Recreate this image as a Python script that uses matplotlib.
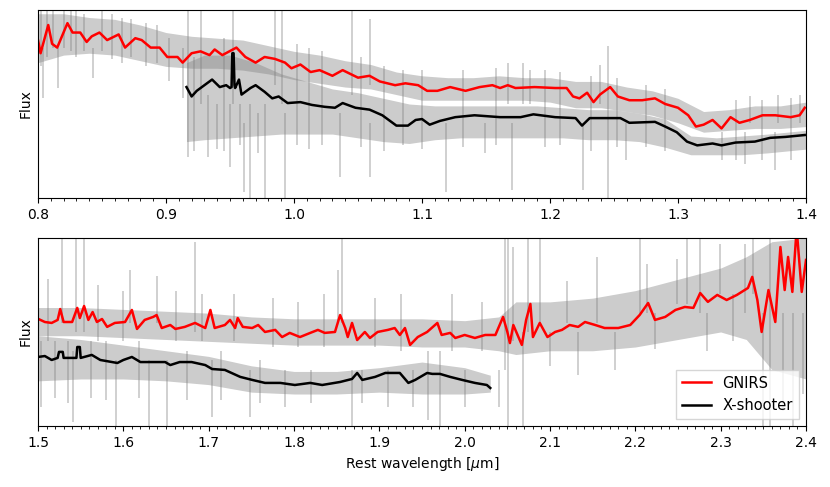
import matplotlib
matplotlib.use("Agg")
import matplotlib.pyplot as plt
from matplotlib.ticker import MultipleLocator

# ---- top panel (0.8 - 1.4 um) ----
# smoothed GNIRS
top_gn_wl = [0.800, 0.802, 0.808, 0.811, 0.815, 0.823, 0.827, 0.833, 0.838, 0.842,
             0.848, 0.854, 0.863, 0.868, 0.876, 0.881, 0.888, 0.895, 0.901, 0.909,
             0.913, 0.920, 0.927, 0.934, 0.938, 0.944, 0.955, 0.962, 0.970, 0.977,
             0.985, 0.993, 0.998, 1.005, 1.013, 1.020, 1.030, 1.038, 1.050, 1.059,
             1.067, 1.079, 1.087, 1.097, 1.104, 1.112, 1.122, 1.134, 1.145, 1.155,
             1.161, 1.167, 1.173, 1.188, 1.204, 1.213, 1.218, 1.223, 1.229, 1.234,
             1.239, 1.247, 1.253, 1.262, 1.272, 1.282, 1.290, 1.300, 1.308, 1.314,
             1.320, 1.327, 1.334, 1.341, 1.348, 1.356, 1.366, 1.376, 1.388, 1.395,
             1.399]
top_gn_flux = [0.84, 0.77, 0.92, 0.82, 0.80, 0.93, 0.88, 0.88, 0.83, 0.86,
               0.88, 0.84, 0.87, 0.80, 0.85, 0.84, 0.80, 0.80, 0.75, 0.75,
               0.72, 0.77, 0.78, 0.76, 0.79, 0.76, 0.80, 0.75, 0.72, 0.75,
               0.74, 0.72, 0.69, 0.71, 0.67, 0.68, 0.65, 0.68, 0.64, 0.65,
               0.62, 0.60, 0.61, 0.60, 0.57, 0.57, 0.59, 0.57, 0.59, 0.60,
               0.585, 0.60, 0.585, 0.59, 0.585, 0.585, 0.54, 0.53, 0.56, 0.51,
               0.55, 0.59, 0.54, 0.52, 0.52, 0.53, 0.50, 0.48, 0.44, 0.38,
               0.39, 0.415, 0.37, 0.43, 0.40, 0.415, 0.44, 0.44, 0.43, 0.44,
               0.48]

# smoothed X-shooter
top_xs_wl = [0.916, 0.920, 0.924, 0.930, 0.936, 0.942, 0.947, 0.950, 0.9512, 0.9518,
             0.9528, 0.9535, 0.954, 0.957, 0.959, 0.966, 0.970, 0.977, 0.983, 0.988,
             0.995, 1.005, 1.014, 1.024, 1.032, 1.038, 1.048, 1.059, 1.069, 1.080,
             1.089, 1.095, 1.100, 1.106, 1.114, 1.126, 1.141, 1.161, 1.177, 1.187,
             1.204, 1.220, 1.225, 1.231, 1.255, 1.262, 1.282, 1.290, 1.299, 1.307,
             1.315, 1.327, 1.334, 1.345, 1.360, 1.372, 1.384, 1.399]
top_xs_flux = [0.59, 0.54, 0.57, 0.60, 0.63, 0.59, 0.60, 0.585, 0.59, 0.77,
               0.77, 0.60, 0.585, 0.63, 0.55, 0.585, 0.60, 0.565, 0.53, 0.54,
               0.505, 0.51, 0.495, 0.485, 0.48, 0.505, 0.48, 0.47, 0.44, 0.385,
               0.385, 0.415, 0.42, 0.39, 0.41, 0.43, 0.44, 0.43, 0.43, 0.445,
               0.43, 0.425, 0.385, 0.425, 0.425, 0.40, 0.405, 0.38, 0.35, 0.30,
               0.28, 0.29, 0.28, 0.295, 0.30, 0.32, 0.325, 0.335]

# raw spectra (grey): core band of the noise
top_gn_raw_wl = [0.80, 0.82, 0.84, 0.86, 0.88, 0.90, 0.92, 0.94, 0.96, 0.98,
                 1.00, 1.02, 1.04, 1.06, 1.08, 1.10, 1.12, 1.14, 1.16, 1.18,
                 1.20, 1.22, 1.24, 1.26, 1.28, 1.30, 1.32, 1.34, 1.36, 1.38, 1.40]
top_gn_raw_hi = [0.98, 0.98, 0.96, 0.95, 0.92, 0.88, 0.86, 0.85, 0.84, 0.81,
                 0.78, 0.76, 0.73, 0.71, 0.67, 0.65, 0.64, 0.64, 0.65, 0.64,
                 0.64, 0.62, 0.62, 0.59, 0.57, 0.53, 0.46, 0.47, 0.49, 0.49, 0.51]
top_gn_raw_lo = [0.72, 0.76, 0.77, 0.76, 0.73, 0.70, 0.69, 0.69, 0.68, 0.66,
                 0.63, 0.61, 0.59, 0.58, 0.55, 0.52, 0.52, 0.52, 0.52, 0.52,
                 0.51, 0.48, 0.48, 0.46, 0.44, 0.40, 0.35, 0.36, 0.37, 0.37, 0.38]

top_xs_raw_wl = [0.916, 0.93, 0.95, 0.97, 0.99, 1.01, 1.03, 1.05, 1.07, 1.09,
                 1.11, 1.13, 1.15, 1.17, 1.19, 1.21, 1.23, 1.25, 1.27, 1.29,
                 1.31, 1.33, 1.35, 1.37, 1.40]
top_xs_raw_hi = [0.72, 0.76, 0.76, 0.72, 0.66, 0.62, 0.58, 0.56, 0.53, 0.50,
                 0.49, 0.49, 0.49, 0.49, 0.49, 0.48, 0.47, 0.47, 0.45, 0.42,
                 0.33, 0.32, 0.33, 0.34, 0.36]
top_xs_raw_lo = [0.30, 0.31, 0.32, 0.33, 0.34, 0.34, 0.34, 0.32, 0.30, 0.29,
                 0.31, 0.32, 0.32, 0.32, 0.32, 0.32, 0.31, 0.31, 0.30, 0.27,
                 0.23, 0.23, 0.23, 0.24, 0.26]

# single-pixel spikes (wavelength, bottom, top)
top_spike_wl = [0.802, 0.804, 0.807, 0.812, 0.816, 0.820, 0.826, 0.830, 0.836, 0.843,
                0.850, 0.858, 0.866, 0.873, 0.884, 0.893, 0.902, 0.913, 0.917, 0.922,
                0.927, 0.933, 0.940, 0.945, 0.950, 0.952, 0.958, 0.961, 0.966, 0.972,
                0.977, 0.985, 0.991, 0.993, 1.002, 1.012, 1.022, 1.036, 1.045, 1.052,
                1.059, 1.059, 1.070, 1.085, 1.100, 1.119, 1.132, 1.149, 1.158, 1.167,
                1.170, 1.179, 1.184, 1.196, 1.208, 1.226, 1.232, 1.239, 1.245, 1.252,
                1.259, 1.275, 1.290, 1.334, 1.345, 1.352, 1.356, 1.366, 1.376, 1.378,
                1.388, 1.395]
top_spike_lo = [0.70, 0.53, 0.75, 0.80, 0.585, 0.80, 0.78, 0.75, 0.78, 0.64,
                0.78, 0.74, 0.72, 0.75, 0.70, 0.72, 0.62, 0.53, 0.22, 0.25,
                0.50, 0.22, 0.26, 0.25, 0.165, 0.50, 0.28, 0.03, 0.00, 0.24,
                0.00, 0.60, 0.50, 0.00, 0.28, 0.26, 0.28, 0.11, 0.55, 0.27,
                0.11, 0.60, 0.25, 0.28, 0.26, 0.03, 0.27, 0.24, 0.28, 0.50,
                0.04, 0.50, 0.50, 0.27, 0.28, 0.04, 0.25, 0.50, 0.00, 0.27,
                0.20, 0.27, 0.25, 0.20, 0.20, 0.18, 0.40, 0.20, 0.15, 0.40,
                0.20, 0.40]
top_spike_hi = [1.00, 0.80, 1.00, 1.00, 0.80, 1.00, 1.00, 1.00, 0.98, 0.80,
                1.00, 0.98, 0.96, 0.95, 0.93, 0.92, 0.85, 0.80, 1.00, 0.75,
                1.00, 0.55, 0.50, 0.85, 0.50, 1.00, 0.50, 0.40, 0.50, 0.45,
                0.50, 1.00, 1.00, 0.45, 0.82, 0.80, 0.78, 0.45, 1.00, 0.75,
                0.40, 0.95, 0.70, 0.68, 0.68, 0.40, 0.68, 0.40, 0.69, 0.72,
                0.40, 0.72, 0.68, 0.68, 0.67, 0.40, 0.65, 0.71, 0.81, 0.64,
                0.40, 0.60, 0.58, 0.35, 0.52, 0.35, 0.54, 0.52, 0.35, 0.55,
                0.53, 0.55]

# ---- bottom panel (1.5 - 2.4 um) ----
bot_gn_wl = [1.500, 1.508, 1.516, 1.523, 1.526, 1.530, 1.540, 1.546, 1.549, 1.554,
             1.559, 1.564, 1.569, 1.575, 1.581, 1.590, 1.602, 1.610, 1.616, 1.625,
             1.635, 1.639, 1.645, 1.655, 1.661, 1.672, 1.684, 1.696, 1.702, 1.707,
             1.719, 1.725, 1.731, 1.734, 1.740, 1.751, 1.758, 1.766, 1.778, 1.786,
             1.795, 1.807, 1.819, 1.828, 1.836, 1.848, 1.854, 1.860, 1.863, 1.868,
             1.874, 1.883, 1.889, 1.898, 1.910, 1.918, 1.924, 1.930, 1.936, 1.945,
             1.956, 1.968, 1.973, 1.983, 1.989, 2.000, 2.012, 2.024, 2.036, 2.045,
             2.050, 2.053, 2.057, 2.063, 2.067, 2.072, 2.077, 2.080, 2.088, 2.097,
             2.106, 2.114, 2.123, 2.133, 2.141, 2.153, 2.164, 2.180, 2.194, 2.205,
             2.215, 2.223, 2.235, 2.247, 2.258, 2.268, 2.276, 2.285, 2.296, 2.307,
             2.319, 2.332, 2.337, 2.343, 2.348, 2.356, 2.364, 2.370, 2.375, 2.379,
             2.384, 2.389, 2.395, 2.400]
bot_gn_flux = [0.57, 0.553, 0.548, 0.564, 0.622, 0.553, 0.553, 0.628, 0.574, 0.638,
               0.564, 0.606, 0.553, 0.569, 0.527, 0.548, 0.553, 0.617, 0.516, 0.564,
               0.580, 0.590, 0.521, 0.537, 0.516, 0.527, 0.548, 0.521, 0.617, 0.521,
               0.537, 0.564, 0.521, 0.574, 0.527, 0.521, 0.537, 0.500, 0.511, 0.473,
               0.495, 0.473, 0.495, 0.511, 0.495, 0.500, 0.590, 0.521, 0.473, 0.548,
               0.457, 0.500, 0.468, 0.500, 0.511, 0.521, 0.484, 0.521, 0.431, 0.473,
               0.500, 0.548, 0.484, 0.495, 0.468, 0.484, 0.468, 0.484, 0.484, 0.580,
               0.500, 0.441, 0.537, 0.473, 0.431, 0.564, 0.649, 0.473, 0.548, 0.473,
               0.500, 0.511, 0.537, 0.527, 0.553, 0.537, 0.521, 0.521, 0.537, 0.590,
               0.654, 0.564, 0.580, 0.617, 0.633, 0.628, 0.707, 0.660, 0.697, 0.670,
               0.697, 0.734, 0.793, 0.670, 0.500, 0.723, 0.553, 0.952, 0.723, 0.899,
               0.713, 1.05, 0.713, 0.883]

bot_xs_wl = [1.500, 1.508, 1.516, 1.523, 1.5246, 1.528, 1.529, 1.530, 1.543, 1.545,
             1.546, 1.549, 1.550, 1.563, 1.573, 1.593, 1.600, 1.610, 1.620, 1.649,
             1.655, 1.666, 1.680, 1.696, 1.704, 1.719, 1.737, 1.751, 1.766, 1.784,
             1.801, 1.819, 1.833, 1.854, 1.868, 1.874, 1.880, 1.895, 1.907, 1.924,
             1.934, 1.942, 1.956, 1.962, 1.971, 1.983, 1.997, 2.012, 2.026, 2.030]
bot_xs_flux = [0.367, 0.372, 0.351, 0.362, 0.394, 0.394, 0.394, 0.362, 0.362, 0.362,
               0.420, 0.420, 0.362, 0.378, 0.351, 0.335, 0.351, 0.367, 0.340, 0.340,
               0.324, 0.340, 0.340, 0.324, 0.303, 0.298, 0.261, 0.245, 0.229, 0.229,
               0.218, 0.229, 0.218, 0.234, 0.250, 0.282, 0.245, 0.261, 0.282, 0.282,
               0.229, 0.245, 0.282, 0.277, 0.277, 0.261, 0.245, 0.229, 0.218, 0.202]

bot_gn_raw_wl = [1.50, 1.55, 1.60, 1.65, 1.70, 1.75, 1.80, 1.85, 1.90, 1.95,
                 2.00, 2.04, 2.06, 2.10, 2.15, 2.20, 2.25, 2.30, 2.33, 2.36, 2.40]
bot_gn_raw_hi = [0.63, 0.63, 0.62, 0.61, 0.60, 0.58, 0.57, 0.57, 0.57, 0.57,
                 0.56, 0.58, 0.66, 0.66, 0.68, 0.72, 0.78, 0.84, 0.90, 0.98, 1.00]
bot_gn_raw_lo = [0.48, 0.48, 0.47, 0.46, 0.45, 0.44, 0.43, 0.43, 0.43, 0.42,
                 0.42, 0.40, 0.38, 0.40, 0.40, 0.42, 0.46, 0.50, 0.46, 0.30, 0.25]

bot_xs_raw_wl = [1.50, 1.55, 1.60, 1.65, 1.70, 1.75, 1.80, 1.85, 1.90, 1.95, 2.00, 2.03]
bot_xs_raw_hi = [0.48, 0.46, 0.43, 0.40, 0.37, 0.32, 0.29, 0.29, 0.31, 0.34, 0.31, 0.27]
bot_xs_raw_lo = [0.24, 0.25, 0.25, 0.24, 0.22, 0.18, 0.17, 0.17, 0.18, 0.17, 0.17, 0.18]

bot_spike_wl = [1.504, 1.512, 1.520, 1.528, 1.535, 1.541, 1.545, 1.554, 1.562, 1.570,
                1.580, 1.591, 1.600, 1.608, 1.618, 1.630, 1.639, 1.651, 1.662, 1.675,
                1.684, 1.692, 1.704, 1.715, 1.730, 1.748, 1.760, 1.775, 1.790, 1.805,
                1.820, 1.835, 1.852, 1.856, 1.868, 1.880, 1.895, 1.910, 1.925, 1.940,
                1.957, 1.971, 1.985, 2.000, 2.020, 2.040, 2.047, 2.051, 2.057, 2.068,
                2.074, 2.088, 2.100, 2.120, 2.133, 2.155, 2.176, 2.205, 2.214, 2.223,
                2.249, 2.261, 2.276, 2.284, 2.299, 2.315, 2.329, 2.338, 2.350, 2.358,
                2.373, 2.385, 2.396]
bot_spike_lo = [0.10, 0.45, 0.15, 0.55, 0.12, 0.02, 0.50, 0.50, 0.15, 0.45,
                0.14, 0.00, 0.45, 0.55, 0.15, 0.00, 0.55, 0.00, 0.45, 0.14,
                0.50, 0.45, 0.05, 0.14, 0.45, 0.05, 0.12, 0.42, 0.10, 0.42,
                0.12, 0.42, 0.55, 0.55, 0.00, 0.12, 0.42, 0.10, 0.40, 0.10,
                0.03, 0.00, 0.40, 0.10, 0.40, 0.10, 0.30, 0.00, 0.45, 0.00,
                0.50, 0.55, 0.32, 0.55, 0.27, 0.55, 0.30, 0.60, 0.60, 0.41,
                0.65, 0.65, 0.60, 0.40, 0.70, 0.45, 0.60, 0.70, 0.00, 0.00,
                0.08, 0.00, 0.17]
bot_spike_hi = [0.45, 0.78, 0.45, 1.00, 0.45, 0.40, 1.00, 1.00, 0.45, 0.75,
                0.45, 0.35, 0.72, 0.83, 0.45, 0.35, 0.80, 0.35, 0.72, 0.40,
                0.98, 0.70, 0.35, 0.40, 0.70, 0.30, 0.35, 0.68, 0.30, 0.66,
                0.30, 0.70, 0.83, 1.00, 0.30, 0.30, 0.68, 0.30, 0.70, 0.30,
                0.40, 0.40, 0.70, 0.30, 0.66, 0.30, 1.00, 1.00, 0.95, 0.50,
                1.00, 1.00, 0.50, 0.77, 0.50, 0.90, 0.50, 1.00, 0.86, 0.60,
                0.89, 1.00, 1.00, 0.60, 0.97, 0.70, 0.97, 1.00, 0.60, 1.00,
                0.60, 0.60, 0.60]

raw_kw = dict(color='0.5', alpha=0.4, linewidth=0)
spike_kw = dict(color='0.5', alpha=0.4, linewidth=1.3)

fig = plt.figure(figsize=(8.3, 4.87), dpi=100)
ax1 = fig.add_axes([0.0458, 0.5934, 0.9253, 0.3861])
ax2 = fig.add_axes([0.0458, 0.1253, 0.9253, 0.3861])

# top
ax1.fill_between(top_gn_raw_wl, top_gn_raw_lo, top_gn_raw_hi, **raw_kw)
ax1.vlines(top_spike_wl, top_spike_lo, top_spike_hi, **spike_kw)
ax1.plot(top_gn_wl, top_gn_flux, color='red', lw=1.8)
ax1.fill_between(top_xs_raw_wl, top_xs_raw_lo, top_xs_raw_hi, **raw_kw)
ax1.plot(top_xs_wl, top_xs_flux, color='black', lw=1.8)
ax1.set_xlim(0.8, 1.4)
ax1.set_ylim(0, 1)

# bottom
ax2.fill_between(bot_gn_raw_wl, bot_gn_raw_lo, bot_gn_raw_hi, **raw_kw)
ax2.vlines(bot_spike_wl, bot_spike_lo, bot_spike_hi, **spike_kw)
ax2.fill_between(bot_xs_raw_wl, bot_xs_raw_lo, bot_xs_raw_hi, **raw_kw)
ax2.plot(bot_gn_wl, bot_gn_flux, color='red', lw=1.8, label='GNIRS')
ax2.plot(bot_xs_wl, bot_xs_flux, color='black', lw=1.8, label='X-shooter')
ax2.set_xlim(1.5, 2.4)
ax2.set_ylim(0, 1)
ax2.set_xlabel(r'Rest wavelength [$\mu$m]')
ax2.legend(loc='lower right', fontsize=10.5, fancybox=False)

for ax in (ax1, ax2):
    ax.set_yticks([])
    ax.set_ylabel('Flux')
    ax.xaxis.set_major_locator(MultipleLocator(0.1))
    ax.xaxis.set_minor_locator(MultipleLocator(0.01))

fig.savefig('out.png', dpi=100)
